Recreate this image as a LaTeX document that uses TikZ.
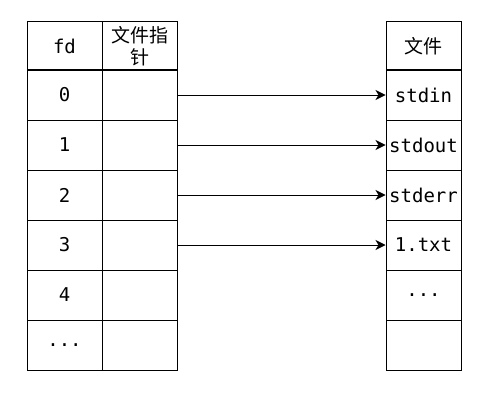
\documentclass[tikz,border=0pt]{standalone}
\usepackage{fontspec}
\setmainfont{DejaVu Sans Mono}
\newfontfamily\cjk{Noto Sans CJK SC}
\usetikzlibrary{arrows.meta}
\def\etc{...}
\begin{document}
\begin{tikzpicture}[x=1pt,y=-1pt,
		cell/.style={draw=black, line width=1pt, minimum width=75pt, minimum height=50pt,
			inner sep=0pt, align=center, font=\fontsize{19}{21}\selectfont},
		head/.style={cell, minimum height=48pt},
		link/.style={line width=0.8pt, -{Stealth[length=10pt,width=10pt,inset=3pt]}}]
	\useasboundingbox (0,0) rectangle (495,404);
	% header row
	\node[head] (fdh) at (64.5,46) {fd};
	\node[head] (ptrh) at (139.5,46) {\cjk 文件指\\[1pt]\cjk 针};
	\node[head] (fileh) at (423.5,46) {\cjk 文件};
	% rows
	\foreach \i/\fd/\file in {0/0/stdin,1/1/stdout,2/2/stderr,3/3/1.txt,4/4/\etc,5/\etc/{}}{
		\node[cell] (fd\i) at (64.5,95+50*\i) {\fd};
		\node[cell] (ptr\i) at (139.5,95+50*\i) {};
		\node[cell] (file\i) at (423.5,95+50*\i) {\file};
	}
	% pointers
	\foreach \i in {0,...,3}{
		\draw[link] (ptr\i.east) -- (file\i.west);
	}
\end{tikzpicture}
\end{document}
